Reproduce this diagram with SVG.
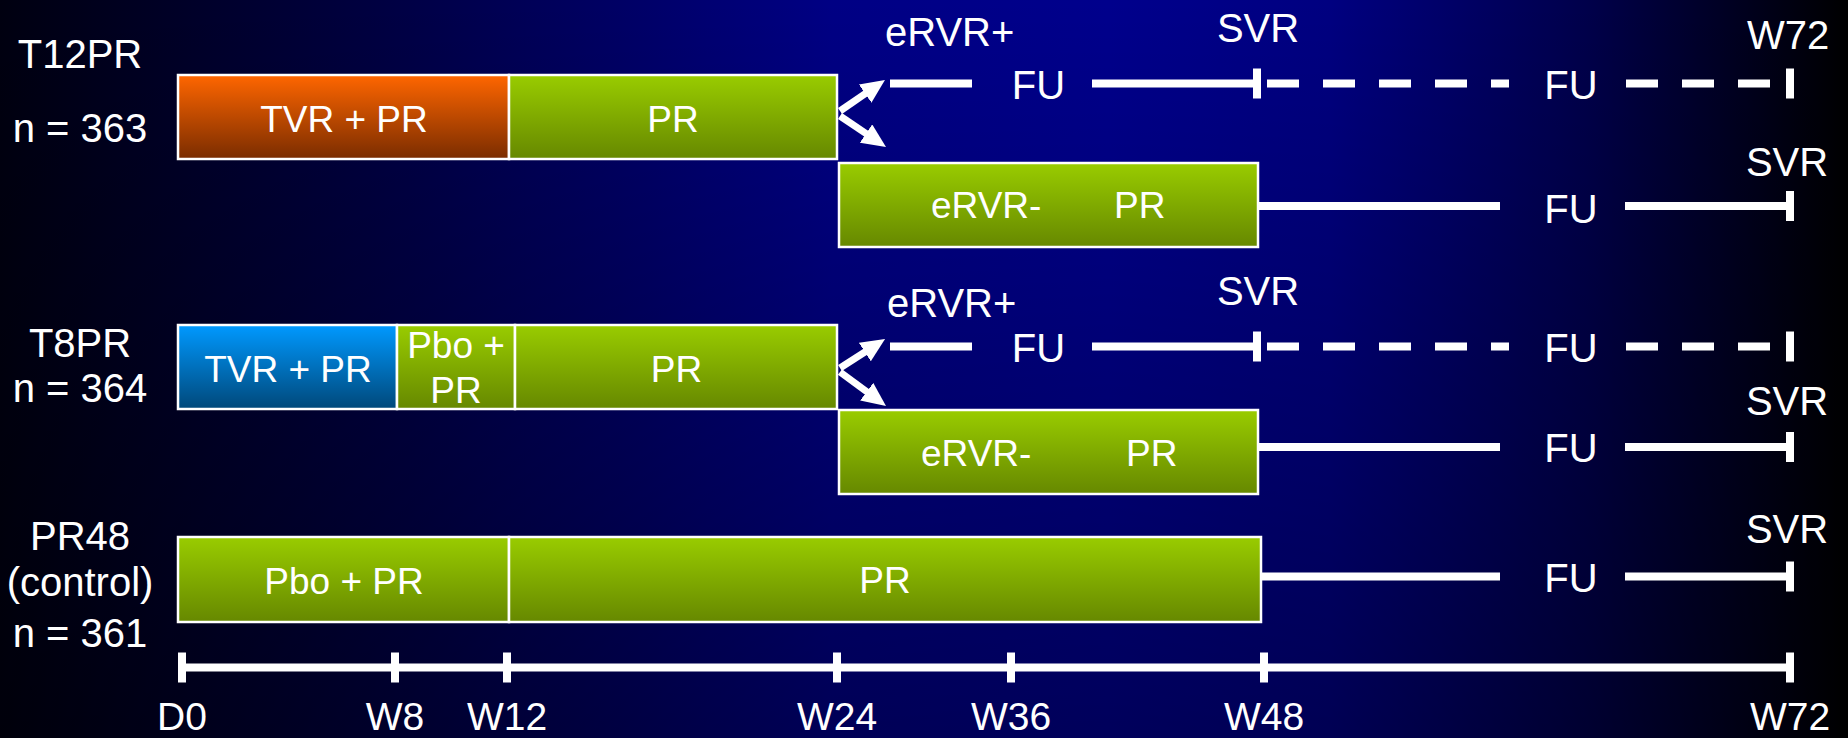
<svg xmlns="http://www.w3.org/2000/svg" width="1848" height="738" viewBox="0 0 1848 738">
<defs>
<linearGradient id="bg" x1="0" y1="0" x2="1" y2="0">
<stop offset="0" stop-color="#000010"/>
<stop offset="0.2" stop-color="#000040"/>
<stop offset="0.45" stop-color="#000084"/>
<stop offset="0.6" stop-color="#00008c"/>
<stop offset="0.72" stop-color="#000080"/>
<stop offset="0.86" stop-color="#00004a"/>
<stop offset="1" stop-color="#000000"/>
</linearGradient>
<linearGradient id="shade" x1="0" y1="0" x2="0" y2="1">
<stop offset="0" stop-color="#000000" stop-opacity="0"/>
<stop offset="1" stop-color="#000000" stop-opacity="0.35"/>
</linearGradient>
<linearGradient id="gGreen" x1="0" y1="0" x2="0" y2="1">
<stop offset="0" stop-color="#99cc00"/>
<stop offset="1" stop-color="#668800"/>
</linearGradient>
<linearGradient id="gOrange" x1="0" y1="0" x2="0" y2="1">
<stop offset="0" stop-color="#ff6600"/>
<stop offset="1" stop-color="#7a2c00"/>
</linearGradient>
<linearGradient id="gBlue" x1="0" y1="0" x2="0" y2="1">
<stop offset="0" stop-color="#0099ff"/>
<stop offset="1" stop-color="#00487a"/>
</linearGradient>
<marker id="ah" markerUnits="userSpaceOnUse" markerWidth="24" markerHeight="22" viewBox="0 0 24 22" refX="1" refY="11" orient="auto">
<path d="M0,0 L24,11 L0,22 Z" fill="#ffffff"/>
</marker>
</defs>
<style>
text{font-family:"Liberation Sans",Arial,sans-serif;fill:#ffffff}
.lbl{font-size:40px;text-anchor:middle}
.lbs{font-size:40px;text-anchor:start}
.bx{font-size:37px;text-anchor:middle}
.bxs{font-size:37px;text-anchor:start}
.ax{font-size:39px;text-anchor:middle}
.box{stroke:#ffffff;stroke-width:2.5}
.ln{stroke:#ffffff;stroke-width:8;fill:none}
.dash{stroke:#ffffff;stroke-width:8;fill:none;stroke-dasharray:32 24}
.tk{stroke:#ffffff;stroke-width:8;fill:none}
.arr{stroke:#ffffff;stroke-width:7;fill:none;marker-end:url(#ah)}
</style>
<rect x="0" y="0" width="1848" height="738" fill="url(#bg)"/>
<rect x="0" y="0" width="1848" height="738" fill="url(#shade)"/>

<g id="label-t12pr">
<text class="lbl" x="80" y="68">T12PR</text>
<text class="lbl" x="80" y="142">n = 363</text>
</g>
<g id="label-t8pr">
<text class="lbl" x="80" y="357">T8PR</text>
<text class="lbl" x="80" y="402">n = 364</text>
</g>
<g id="label-pr48">
<text class="lbl" x="80" y="550">PR48</text>
<text class="lbl" x="80" y="596">(control)</text>
<text class="lbl" x="80" y="647">n = 361</text>
</g>

<g id="t12-tvr">
<rect class="box" x="178" y="75" width="331" height="84" fill="url(#gOrange)"/>
<text class="bx" x="344" y="131.5">TVR + PR</text>
</g>
<g id="t12-pr">
<rect class="box" x="509" y="75" width="328" height="84" fill="url(#gGreen)"/>
<text class="bx" x="673" y="131.5">PR</text>
</g>
<g id="t12-ervr-neg">
<rect class="box" x="839" y="163" width="419" height="84" fill="url(#gGreen)"/>
<text class="bxs" x="931" y="218">eRVR-</text>
<text class="bxs" x="1114" y="218">PR</text>
</g>

<g id="t8-tvr">
<rect class="box" x="178" y="325" width="219" height="84" fill="url(#gBlue)"/>
<text class="bx" x="288" y="381.5">TVR + PR</text>
</g>
<g id="t8-pbo">
<rect class="box" x="397" y="325" width="118" height="84" fill="url(#gGreen)"/>
<text class="bx" x="456" y="358">Pbo +</text>
<text class="bx" x="456" y="403">PR</text>
</g>
<g id="t8-pr">
<rect class="box" x="515" y="325" width="322" height="84" fill="url(#gGreen)"/>
<text class="bx" x="676.5" y="381.5">PR</text>
</g>
<g id="t8-ervr-neg">
<rect class="box" x="839" y="410" width="419" height="84" fill="url(#gGreen)"/>
<text class="bxs" x="921" y="466">eRVR-</text>
<text class="bxs" x="1126" y="466">PR</text>
</g>

<g id="pr48-pbo">
<rect class="box" x="178" y="537" width="331" height="85" fill="url(#gGreen)"/>
<text class="bx" x="344" y="594">Pbo + PR</text>
</g>
<g id="pr48-pr">
<rect class="box" x="509" y="537" width="752" height="85" fill="url(#gGreen)"/>
<text class="bx" x="885" y="593">PR</text>
</g>

<g id="followup-labels">
<text class="lbs" x="885" y="46">eRVR+</text>
<text class="lbl" x="1258" y="42">SVR</text>
<text class="lbl" x="1788" y="49">W72</text>
<text class="lbl" x="1038.5" y="98.5">FU</text>
<text class="lbl" x="1571" y="98.5">FU</text>
<text class="lbl" x="1787" y="176">SVR</text>
<text class="lbl" x="1571" y="222.5">FU</text>
<text class="lbs" x="887" y="316.7">eRVR+</text>
<text class="lbl" x="1258" y="305">SVR</text>
<text class="lbl" x="1038.5" y="361.7">FU</text>
<text class="lbl" x="1571" y="361.7">FU</text>
<text class="lbl" x="1787" y="415">SVR</text>
<text class="lbl" x="1571" y="461.7">FU</text>
<text class="lbl" x="1787" y="543">SVR</text>
<text class="lbl" x="1571" y="591.7">FU</text>
</g>

<g id="connectors">
<line class="arr" x1="840" y1="111" x2="866" y2="93.1"/>
<line class="arr" x1="840" y1="116" x2="866.9" y2="134.1"/>
<line class="arr" x1="840" y1="368" x2="865.7" y2="351.5"/>
<line class="arr" x1="840" y1="372" x2="867.5" y2="392.3"/>

<line class="ln" x1="890" y1="83.5" x2="972" y2="83.5"/>
<line class="ln" x1="1092" y1="83.5" x2="1257" y2="83.5"/>
<line class="tk" x1="1257" y1="68.5" x2="1257" y2="98.5"/>
<line class="dash" x1="1267" y1="83.5" x2="1509" y2="83.5"/>
<line class="dash" x1="1626" y1="83.5" x2="1770" y2="83.5"/>
<line class="tk" x1="1790" y1="68.5" x2="1790" y2="98.5"/>

<line class="ln" x1="1258" y1="206" x2="1500" y2="206"/>
<line class="ln" x1="1625" y1="206" x2="1790" y2="206"/>
<line class="tk" x1="1790" y1="191" x2="1790" y2="221"/>

<line class="ln" x1="890" y1="346.5" x2="972" y2="346.5"/>
<line class="ln" x1="1092" y1="346.5" x2="1257" y2="346.5"/>
<line class="tk" x1="1257" y1="331.5" x2="1257" y2="361.5"/>
<line class="dash" x1="1267" y1="346.5" x2="1509" y2="346.5"/>
<line class="dash" x1="1626" y1="346.5" x2="1770" y2="346.5"/>
<line class="tk" x1="1790" y1="331.5" x2="1790" y2="361.5"/>

<line class="ln" x1="1258" y1="447" x2="1500" y2="447"/>
<line class="ln" x1="1625" y1="447" x2="1790" y2="447"/>
<line class="tk" x1="1790" y1="432" x2="1790" y2="462"/>

<line class="ln" x1="1261" y1="576.5" x2="1500" y2="576.5"/>
<line class="ln" x1="1625" y1="576.5" x2="1790" y2="576.5"/>
<line class="tk" x1="1790" y1="561.5" x2="1790" y2="591.5"/>
</g>

<g id="axis">
<line class="ln" x1="186" y1="667.5" x2="1790" y2="667.5"/>
<line class="tk" x1="182" y1="652.5" x2="182" y2="682.5"/>
<line class="tk" x1="395" y1="652.5" x2="395" y2="682.5"/>
<line class="tk" x1="507" y1="652.5" x2="507" y2="682.5"/>
<line class="tk" x1="837" y1="652.5" x2="837" y2="682.5"/>
<line class="tk" x1="1011" y1="652.5" x2="1011" y2="682.5"/>
<line class="tk" x1="1264" y1="652.5" x2="1264" y2="682.5"/>
<line class="tk" x1="1790" y1="652.5" x2="1790" y2="682.5"/>
<text class="ax" x="182" y="730">D0</text>
<text class="ax" x="395" y="730">W8</text>
<text class="ax" x="507" y="730">W12</text>
<text class="ax" x="837" y="730">W24</text>
<text class="ax" x="1011" y="730">W36</text>
<text class="ax" x="1264" y="730">W48</text>
<text class="ax" x="1790" y="730">W72</text>
</g>
</svg>
